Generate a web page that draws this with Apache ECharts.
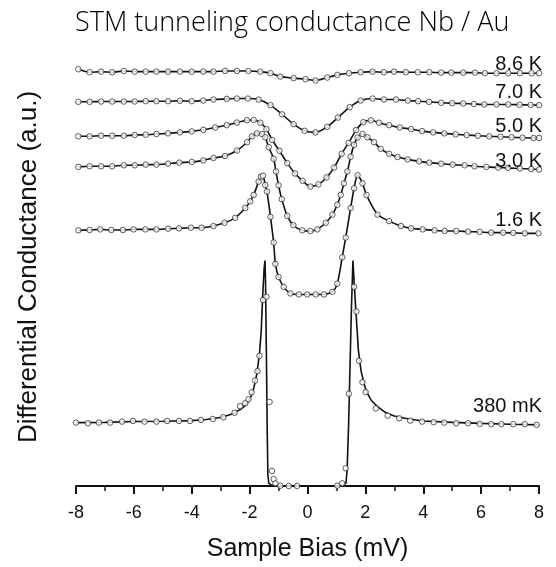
<!DOCTYPE html>
<html>
<head>
<meta charset="utf-8">
<script src="https://cdn.jsdelivr.net/npm/echarts@6/dist/echarts.min.js"></script>
<style>
  html, body { margin: 0; padding: 0; background: #ffffff; }
  #chart { width: 556px; height: 567px; }
</style>
</head>
<body>
<div id="chart"></div>
<script>
// Tunneling conductance spectra (a.u., curves stacked) vs sample bias (mV)

// 8.6 K
const bias86 = [-7.92, -7.53, -7.13, -6.75, -6.35, -5.97, -5.59, -5.22, -4.82, -4.41, -4.0, -3.6, -3.25, -2.85, -2.44, -2.04, -1.63, -1.28, -0.94, -0.48, -0.07, 0.28, 0.68, 1.03, 1.43, 1.84, 2.25, 2.64, 2.99, 3.40, 3.81, 4.21, 4.62, 4.97, 5.38, 5.79, 6.13, 6.53, 6.94, 7.34, 7.74, 8.0];
const cond86 = [4.227, 4.197, 4.203, 4.197, 4.21, 4.203, 4.203, 4.203, 4.203, 4.203, 4.203, 4.203, 4.203, 4.21, 4.21, 4.21, 4.203, 4.187, 4.153, 4.137, 4.127, 4.113, 4.143, 4.17, 4.187, 4.197, 4.203, 4.197, 4.203, 4.197, 4.197, 4.197, 4.193, 4.193, 4.193, 4.193, 4.187, 4.187, 4.187, 4.187, 4.187, 4.187];

// 7.0 K
const bias70 = [-7.92, -7.53, -7.13, -6.75, -6.35, -5.97, -5.59, -5.22, -4.82, -4.41, -4.0, -3.6, -3.25, -2.79, -2.44, -2.06, -1.69, -1.28, -0.88, -0.48, -0.10, 0.28, 0.68, 1.05, 1.46, 1.84, 2.25, 2.64, 3.06, 3.47, 3.82, 4.20, 4.62, 5.0, 5.38, 5.75, 6.11, 6.53, 6.94, 7.33, 7.71, 8.0];
const cond70 = [3.897, 3.897, 3.90, 3.90, 3.90, 3.90, 3.903, 3.903, 3.903, 3.907, 3.903, 3.91, 3.92, 3.927, 3.93, 3.93, 3.92, 3.863, 3.77, 3.67, 3.603, 3.587, 3.643, 3.737, 3.843, 3.91, 3.93, 3.92, 3.92, 3.91, 3.903, 3.897, 3.887, 3.883, 3.88, 3.875, 3.87, 3.87, 3.87, 3.867, 3.865, 3.863];

// 5.0 K
const bias50 = [-7.92, -7.53, -7.13, -6.75, -6.35, -5.97, -5.59, -5.22, -4.82, -4.41, -4.0, -3.6, -3.19, -2.79, -2.44, -2.09, -1.86, -1.63, -1.42, -1.22, -0.97, -0.70, -0.43, -0.17, 0.10, 0.38, 0.66, 0.92, 1.18, 1.42, 1.68, 1.93, 2.19, 2.47, 2.82, 3.19, 3.58, 3.96, 4.34, 4.73, 5.12, 5.50, 5.89, 6.28, 6.67, 7.05, 7.43, 7.81, 8.0];
const cond50 = [3.547, 3.547, 3.553, 3.553, 3.553, 3.56, 3.563, 3.57, 3.577, 3.587, 3.597, 3.613, 3.637, 3.66, 3.687, 3.71, 3.713, 3.685, 3.62, 3.51, 3.40, 3.275, 3.17, 3.095, 3.037, 3.06, 3.13, 3.23, 3.37, 3.48, 3.61, 3.69, 3.71, 3.685, 3.66, 3.637, 3.62, 3.60, 3.587, 3.577, 3.567, 3.56, 3.553, 3.547, 3.543, 3.537, 3.533, 3.53, 3.53];

// 3.0 K
const bias30 = [-7.92, -7.53, -7.13, -6.75, -6.35, -5.97, -5.59, -5.22, -4.82, -4.43, -4.0, -3.6, -3.25, -2.85, -2.44, -2.09, -1.92, -1.75, -1.57, -1.46, -1.34, -1.17, -1.09, -1.0, -0.89, -0.70, -0.49, -0.18, 0.10, 0.34, 0.63, 0.86, 1.03, 1.15, 1.26, 1.38, 1.49, 1.61, 1.73, 1.90, 2.07, 2.30, 2.53, 2.82, 3.11, 3.46, 3.86, 4.21, 4.62, 5.02, 5.43, 5.77, 6.18, 6.59, 6.93, 7.34, 7.73, 8.0];
const cond30 = [3.237, 3.243, 3.243, 3.243, 3.253, 3.253, 3.26, 3.26, 3.27, 3.28, 3.287, 3.303, 3.327, 3.347, 3.403, 3.487, 3.547, 3.577, 3.57, 3.537, 3.437, 3.32, 3.19, 3.05, 2.91, 2.74, 2.645, 2.593, 2.587, 2.603, 2.67, 2.753, 2.853, 2.953, 3.07, 3.19, 3.34, 3.46, 3.535, 3.57, 3.537, 3.487, 3.42, 3.37, 3.337, 3.313, 3.293, 3.28, 3.27, 3.26, 3.253, 3.243, 3.237, 3.23, 3.227, 3.22, 3.215, 3.21];

// 1.6 K
const bias16 = [-7.92, -7.53, -7.16, -6.78, -6.38, -6.01, -5.60, -5.22, -4.82, -4.44, -4.03, -3.66, -3.25, -2.87, -2.50, -2.15, -1.98, -1.86, -1.69, -1.61, -1.54, -1.46, -1.40, -1.28, -1.17, -1.11, -1.00, -0.82, -0.59, -0.30, -0.01, 0.28, 0.57, 0.86, 1.03, 1.20, 1.32, 1.49, 1.61, 1.73, 1.90, 2.04, 2.42, 2.82, 3.23, 3.58, 3.98, 4.39, 4.74, 5.14, 5.55, 5.95, 6.35, 6.76, 7.11, 7.51, 7.98];
const cond16 = [2.593, 2.597, 2.603, 2.597, 2.597, 2.603, 2.603, 2.603, 2.61, 2.613, 2.62, 2.62, 2.637, 2.67, 2.72, 2.82, 2.887, 2.953, 3.087, 3.137, 3.147, 3.053, 2.987, 2.73, 2.47, 2.253, 2.12, 2.02, 1.953, 1.943, 1.943, 1.943, 1.943, 1.97, 2.053, 2.32, 2.52, 2.82, 3.02, 3.153, 3.07, 2.95, 2.753, 2.687, 2.637, 2.613, 2.603, 2.593, 2.587, 2.587, 2.58, 2.577, 2.57, 2.57, 2.567, 2.563, 2.563];

// 380 mK measured points
const bias038 = [-8.0, -7.59, -7.21, -6.82, -6.41, -6.03, -5.63, -5.22, -4.85, -4.44, -4.06, -3.68, -3.27, -2.91, -2.52, -2.33, -2.15, -2.04, -1.93, -1.81, -1.73, -1.66, -1.54, -1.42, -1.31, -1.23, -1.17, -1.11, -0.94, -0.65, -0.36, -0.07, 0.22, 0.51, 0.80, 1.03, 1.20, 1.32, 1.43, 1.61, 1.69, 1.78, 1.90, 2.01, 2.36, 2.77, 3.17, 3.55, 3.96, 4.36, 4.73, 5.14, 5.55, 5.95, 6.35, 6.70, 7.11, 7.51, 7.92];
const cond038 = [0.643, 0.637, 0.643, 0.643, 0.653, 0.66, 0.653, 0.653, 0.66, 0.66, 0.66, 0.67, 0.68, 0.697, 0.743, 0.81, 0.84, 0.88, 0.95, 1.07, 1.165, 1.32, 1.887, 1.92, 0.853, 0.153, 0.07, 0.027, 0.003, 0.0, 0.0, -0.005, -0.005, -0.005, -0.005, 0.003, 0.027, 0.18, 0.937, 2.02, 1.77, 1.27, 1.053, 0.953, 0.787, 0.713, 0.687, 0.663, 0.653, 0.647, 0.643, 0.637, 0.637, 0.63, 0.627, 0.627, 0.627, 0.627, 0.62];

// 380 mK fitted curve (sharp coherence peaks)
const fitBias038 = [-8.0, -7.0, -6.0, -5.0, -4.0, -3.5, -3.0, -2.6, -2.3, -2.1, -1.95, -1.85, -1.75, -1.66, -1.6, -1.55, -1.5, -1.47, -1.45, -1.42, -1.39, -1.37, -1.34, -1.25, -1.0, 0.0, 1.0, 1.25, 1.33, 1.37, 1.42, 1.47, 1.52, 1.57, 1.62, 1.68, 1.76, 1.85, 1.95, 2.05, 2.2, 2.4, 2.7, 3.0, 3.5, 4.0, 5.0, 6.0, 7.0, 8.0];
const fitCond038 = [0.643, 0.645, 0.655, 0.657, 0.663, 0.675, 0.695, 0.73, 0.78, 0.83, 0.91, 1.00, 1.14, 1.34, 1.57, 1.92, 2.20, 2.287, 2.07, 1.32, 0.52, 0.12, 0.03, 0.01, 0.005, 0.002, 0.005, 0.01, 0.03, 0.17, 0.62, 1.22, 1.82, 2.287, 2.02, 1.74, 1.37, 1.17, 1.04, 0.95, 0.87, 0.81, 0.745, 0.71, 0.68, 0.66, 0.645, 0.635, 0.627, 0.62];

// x-axis ticks
const biasMin = -8, biasMax = 8, biasStep = 2;

const curves = [
  { name: '8.6 K',  bias: bias86,  cond: cond86 },
  { name: '7.0 K',  bias: bias70,  cond: cond70 },
  { name: '5.0 K',  bias: bias50,  cond: cond50 },
  { name: '3.0 K',  bias: bias30,  cond: cond30 },
  { name: '1.6 K',  bias: bias16,  cond: cond16 },
  { name: '380 mK', bias: bias038, cond: cond038, fitBias: fitBias038, fitCond: fitCond038 }
];

// vertical gap (px) between each curve's right end and the middle of its temperature label
const labelLift = { '8.6 K': 9, '7.0 K': 13, '5.0 K': 12, '3.0 K': 8, '1.6 K': 13, '380 mK': 18 };

const pairs = (xs, ys) => xs.map((x, i) => [x, ys[i]]);

const series = [];
curves.forEach(c => {
  const lineData = c.fitBias ? pairs(c.fitBias, c.fitCond) : pairs(c.bias, c.cond);
  series.push({
    name: c.name + ' fit',
    type: 'line',
    data: lineData,
    showSymbol: false,
    smooth: c.fitBias ? false : 0.25,
    clip: false,
    lineStyle: { color: '#111111', width: 1.6 },
    z: 2,
    silent: true
  });
  series.push({
    name: c.name,
    type: 'scatter',
    data: pairs(c.bias, c.cond),
    symbol: 'circle',
    symbolSize: 5.5,
    itemStyle: { color: '#ffffff', borderColor: '#333333', borderWidth: 1 },
    z: 3,
    silent: true
  });
});

const chart = echarts.init(document.getElementById('chart'), null, { renderer: 'canvas' });

chart.setOption({
  animation: false,
  backgroundColor: '#ffffff',
  title: {
    text: 'STM tunneling conductance Nb / Au',
    left: 70,
    top: 5,
    textStyle: { fontFamily: 'Open Sans', fontWeight: 300, fontSize: 27, color: '#000000' }
  },
  grid: { left: 76, right: 17, top: 68, bottom: 75 },
  xAxis: {
    type: 'value',
    min: biasMin,
    max: biasMax,
    interval: biasStep,
    name: 'Sample Bias (mV)',
    nameLocation: 'middle',
    nameGap: 51,
    nameTextStyle: { fontFamily: 'Liberation Sans', fontSize: 25, color: '#111111' },
    axisLine: { show: true, onZero: false, lineStyle: { color: '#111111', width: 2 } },
    axisTick: { show: true, inside: false, length: 8, lineStyle: { color: '#111111', width: 2 } },
    minorTick: { show: true, splitNumber: 2, length: 5, lineStyle: { color: '#111111', width: 1.5 } },
    axisLabel: { margin: 18, fontFamily: 'Liberation Sans', fontSize: 18, color: '#111111' },
    splitLine: { show: false },
    minorSplitLine: { show: false }
  },
  yAxis: {
    type: 'value',
    min: 0,
    max: 4.24,
    name: 'Differential Conductance (a.u.)',
    nameLocation: 'middle',
    nameRotate: 90,
    nameGap: 34,
    nameTextStyle: { fontFamily: 'Liberation Sans', fontSize: 26, color: '#111111', padding: [0, 0, 0, 20] },
    axisLine: { show: false },
    axisTick: { show: false },
    axisLabel: { show: false },
    splitLine: { show: false }
  },
  series: series
});

// temperature labels, right-aligned just above each curve's high-bias end
const labels = curves.map(c => {
  const last = c.cond[c.cond.length - 1];
  const p = chart.convertToPixel({ gridIndex: 0 }, [biasMax, last]);
  return {
    type: 'text',
    x: p[0] + 3,
    y: p[1] - labelLift[c.name],
    style: {
      text: c.name,
      align: 'right',
      verticalAlign: 'middle',
      fontFamily: 'Liberation Sans',
      fontSize: 20,
      fill: '#111111'
    },
    z: 10
  };
});
chart.setOption({ graphic: labels });
</script>
</body>
</html>
